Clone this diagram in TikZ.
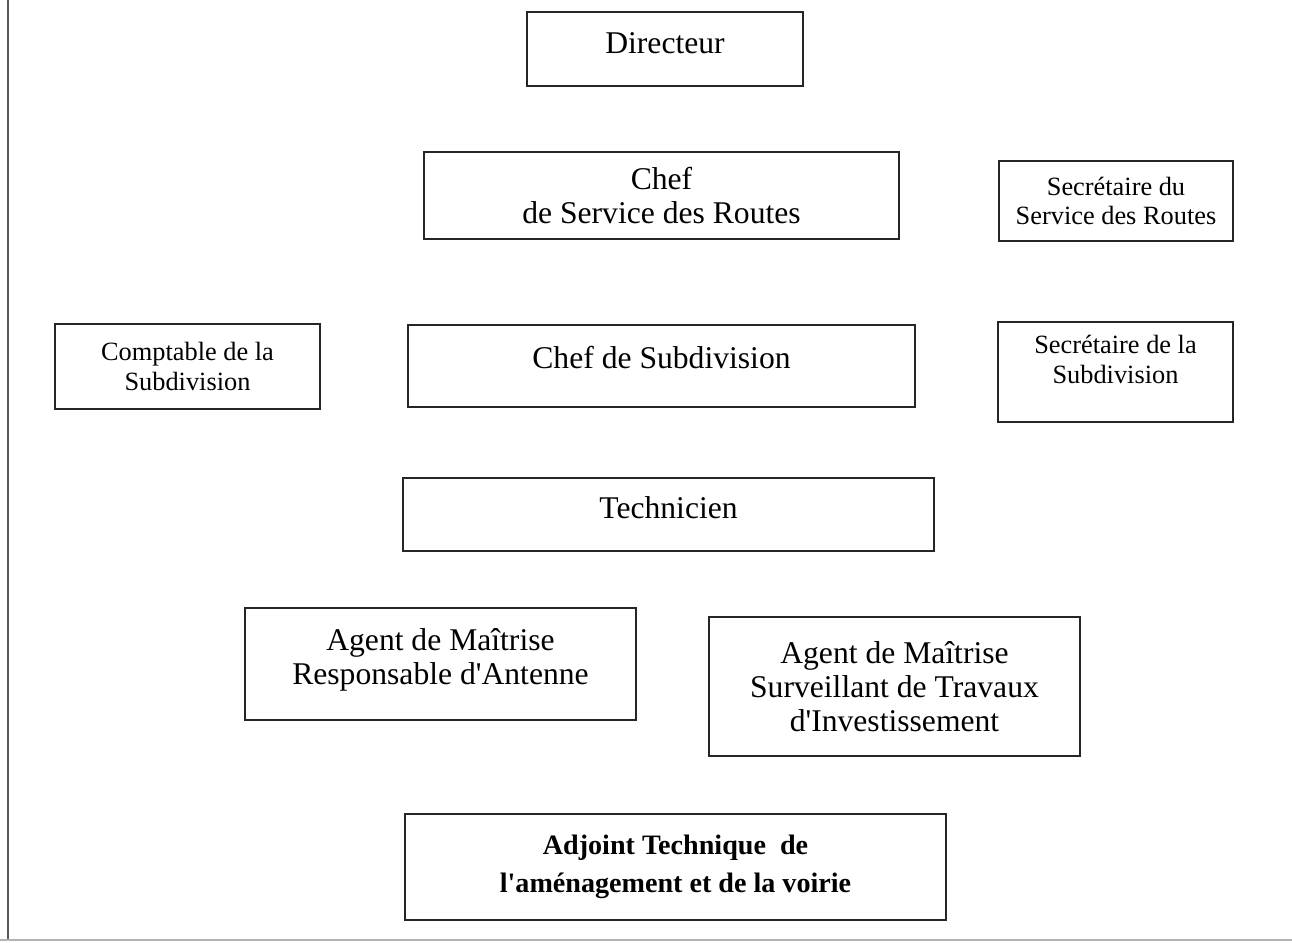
\documentclass[tikz,border=0pt]{standalone}
\usepackage{fontspec}
\setmainfont{Liberation Serif}

\begin{document}
\begin{tikzpicture}[x=0.02cm,y=-0.02cm,
    box/.style={draw=black!85,line width=1pt,align=center,inner sep=0pt},
    big/.style={font=\fontsize{18}{19.5}\selectfont},
    small/.style={font=\fontsize{15}{17}\selectfont},
    strong/.style={font=\fontsize{16}{21.5}\selectfont\bfseries}]
  \useasboundingbox (0,0) rectangle (1292,943);
  % page edges of the scan
  \draw[black!65,line width=1.2pt] (8,0) -- (8,940);
  \draw[black!30,line width=0.8pt] (0,940) -- (1292,940);

  \node (directeur) [box,big,minimum width=5.52cm,minimum height=1.48cm,text depth=0.22cm] at (665,49) {Directeur};

  \node (chefservice) [box,big,minimum width=9.5cm,minimum height=1.74cm] at (661.5,195.5)
    {Chef\\de Service des Routes};
  \node (secservice) [box,small,minimum width=4.68cm,minimum height=1.6cm] at (1116,201)
    {Secrétaire du\\Service des Routes};

  \node (comptable) [box,small,minimum width=5.3cm,minimum height=1.7cm] at (187.5,366.5)
    {Comptable de la\\Subdivision};
  \node (chefsubdiv) [box,big,minimum width=10.14cm,minimum height=1.64cm,text depth=0.35cm] at (661.5,366)
    {Chef de Subdivision};
  \node (secsubdiv) [box,small,minimum width=4.7cm,minimum height=2cm,text depth=0.5cm] at (1115.5,372)
    {Secrétaire de la\\Subdivision};

  \node (technicien) [box,big,minimum width=10.62cm,minimum height=1.46cm,text depth=0.28cm] at (668.5,514.5) {Technicien};

  \node (agentantenne) [box,big,minimum width=7.82cm,minimum height=2.24cm,text depth=0.3cm] at (440.5,664)
    {Agent de Maîtrise\\Responsable d\textquotesingle Antenne};
  \node (agenttravaux) [box,big,minimum width=7.42cm,minimum height=2.78cm] at (894.5,686.5)
    {Agent de Maîtrise\\Surveillant de Travaux\\d\textquotesingle Investissement};

  \node (adjoint) [box,strong,minimum width=10.82cm,minimum height=2.12cm] at (675.5,867)
    {Adjoint Technique\ \ de\\l\textquotesingle aménagement et de la voirie};
\end{tikzpicture}
\end{document}
